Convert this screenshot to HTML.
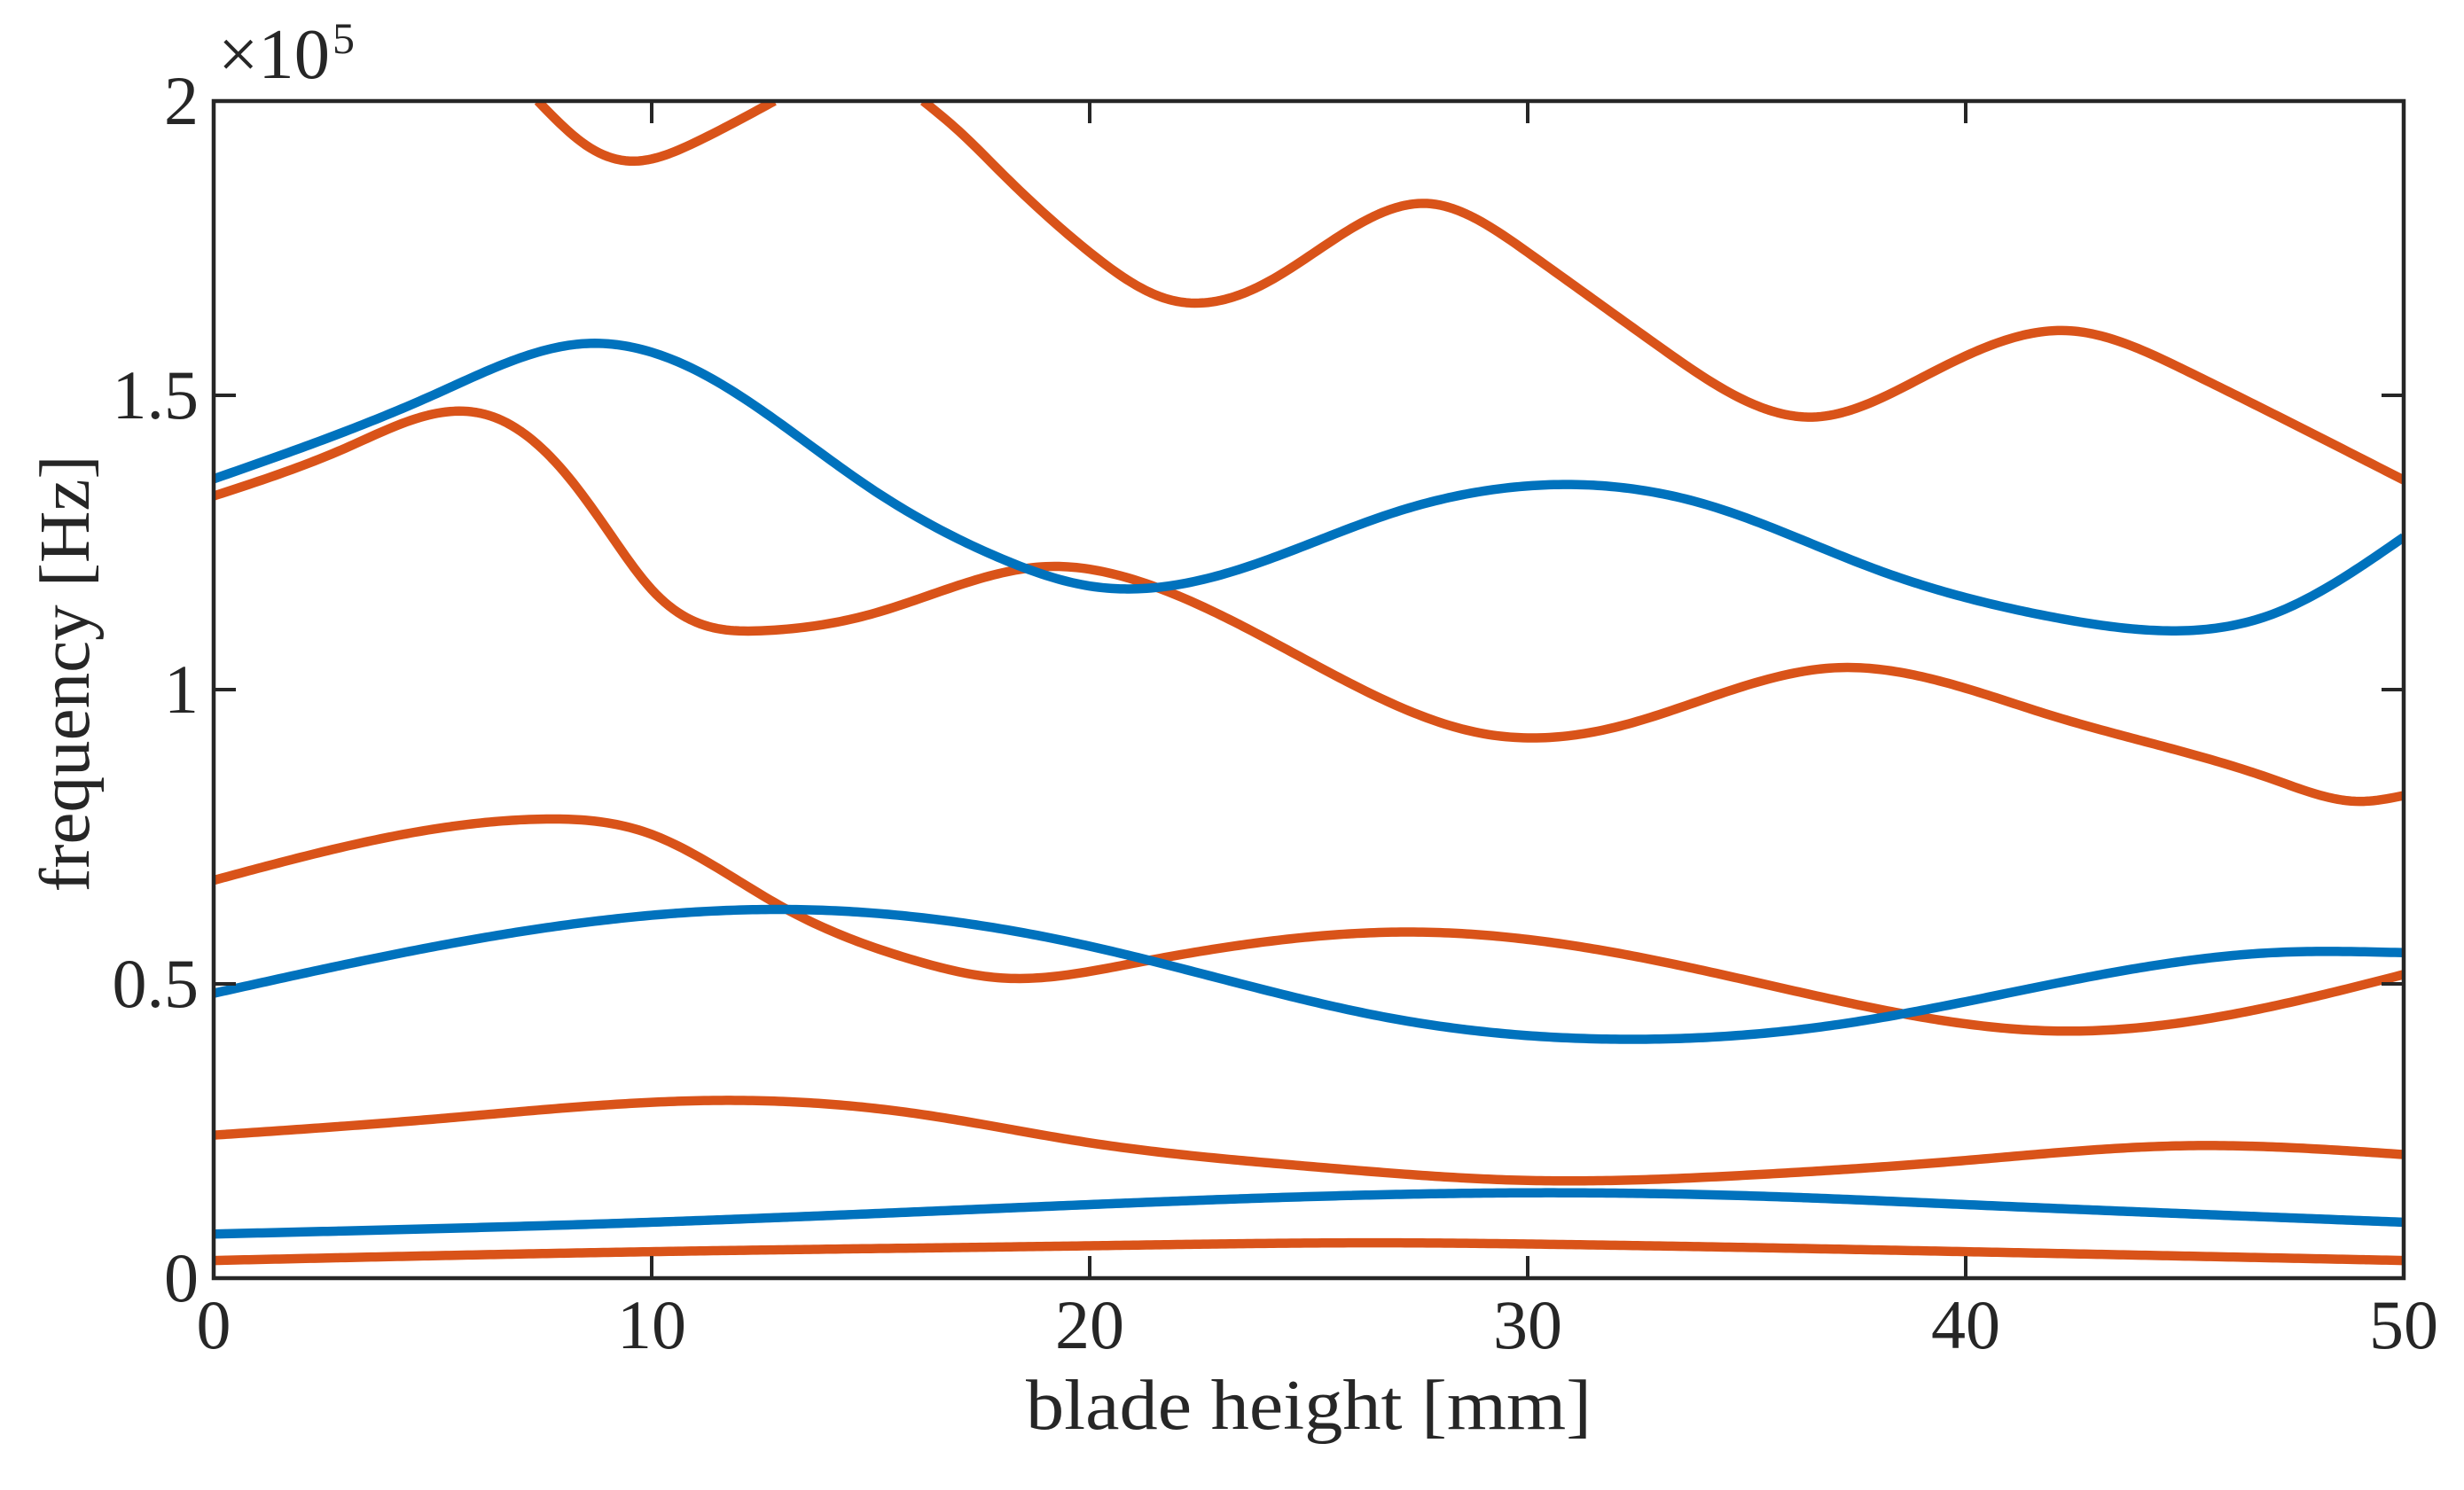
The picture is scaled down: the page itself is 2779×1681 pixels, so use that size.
<!DOCTYPE html>
<html><head><meta charset="utf-8">
<style>
html,body{margin:0;padding:0;background:#fff;}
svg{display:block;}
text{font-family:"Liberation Serif",serif;fill:#262626;}
</style></head>
<body>
<svg id="chart" width="2779" height="1681" viewBox="0 0 2779 1681" xmlns="http://www.w3.org/2000/svg">
<defs><clipPath id="plotclip"><rect x="241" y="114" width="2470" height="1328"/></clipPath></defs>
<rect x="0" y="0" width="2779" height="1681" fill="#fff"/>
<g id="series" clip-path="url(#plotclip)"></g>
<g id="axes"></g>
</svg>
<script>
const xTicks=[0,10,20,30,40,50];
const yTicks=[0,0.5,1,1.5,2];
const yTickLabels=["0","0.5","1","1.5","2"];
// series in units of 1e5 Hz, x in mm
const o1x=[0,10,20,27,30,40,50];
const o1y=[0.03,0.045,0.055,0.06,0.058,0.045,0.03];
const b1x=[0,10,20,30,35,40,50];
const b1y=[0.075,0.095,0.125,0.145,0.14,0.125,0.095];
const o2x=[0,5,12,16,20,25,30,35,40,45,50];
const o2y=[0.243,0.27,0.302,0.28,0.23,0.19,0.166,0.175,0.2,0.225,0.21];
const b2x=[0,13.5,20,27,32,37,42,47,50];
const b2y=[0.484,0.626,0.564,0.44,0.406,0.43,0.5,0.553,0.553];
const o3x=[0,7.5,10,13,16,18,21,27.5,32,37,42,46,50];
const o3y=[0.676,0.78,0.754,0.63,0.54,0.51,0.535,0.588,0.553,0.473,0.42,0.447,0.516];
const o4x=[0,3,5.5,6.5,8,9,10,11,12.5,15,19,21,25,29,32,37,42,47,49,50];
const o4y=[1.329,1.41,1.473,1.46,1.37,1.27,1.17,1.115,1.1,1.128,1.209,1.187,1.048,0.925,0.936,1.037,0.955,0.848,0.81,0.82];
const b3x=[0,5,8.5,11,15,18,20,23,27,30.5,34,38,42,44,47,50];
const b3y=[1.358,1.5,1.588,1.543,1.342,1.222,1.176,1.195,1.302,1.348,1.316,1.203,1.123,1.102,1.128,1.259];
const o5x=[7.4,8.5,9.5,11,12.8];
const o5y=[2.0,1.925,1.898,1.93,2.0];
const o6x=[16.2,17,18,20,21.8,24,27.7,30,33,36.5,39,42.3,45,50];
const o6y=[2.0,1.95,1.877,1.743,1.663,1.69,1.826,1.743,1.583,1.463,1.53,1.61,1.543,1.356];

const X0=241,X1=2711,Y0=1442,Y1=114;
const sx=v=>X0+(v-0)/(50-0)*(X1-X0);
const sy=v=>Y0-(v-0)/(2-0)*(Y0-Y1);
const NS="http://www.w3.org/2000/svg";
const blue="#0072BD", orange="#D95319";

// natural cubic spline through data points, sampled finely
function spline(xs,ys){
  const n=xs.length, h=[], a=[], l=[1], mu=[0], z=[0], c=new Array(n).fill(0), b=[], d=[];
  for(let i=0;i<n-1;i++)h.push(xs[i+1]-xs[i]);
  for(let i=1;i<n-1;i++)a[i]=3/h[i]*(ys[i+1]-ys[i])-3/h[i-1]*(ys[i]-ys[i-1]);
  for(let i=1;i<n-1;i++){l[i]=2*(xs[i+1]-xs[i-1])-h[i-1]*mu[i-1];mu[i]=h[i]/l[i];z[i]=(a[i]-h[i-1]*z[i-1])/l[i];}
  for(let j=n-2;j>=0;j--){
    if(j>0)c[j]=z[j]-mu[j]*c[j+1];
    b[j]=(ys[j+1]-ys[j])/h[j]-h[j]*(c[j+1]+2*c[j])/3;d[j]=(c[j+1]-c[j])/(3*h[j]);}
  const pts=[];
  for(let i=0;i<n-1;i++){
    const steps=Math.max(4,Math.ceil(h[i]/0.1));
    for(let k=0;k<steps;k++){const t=h[i]*k/steps;pts.push([xs[i]+t,ys[i]+b[i]*t+c[i]*t*t+d[i]*t*t*t]);}
  }
  pts.push([xs[n-1],ys[n-1]]);
  return pts;
}
function pathD(xs,ys){
  return spline(xs,ys).map((p,i)=>(i?"L":"M")+sx(p[0]).toFixed(2)+","+sy(p[1]).toFixed(2)).join("");
}
const sg=document.getElementById('series');
const list=[["orange-mode-1",o1x,o1y,orange],["orange-mode-2",o2x,o2y,orange],["orange-mode-3",o3x,o3y,orange],["orange-mode-4",o4x,o4y,orange],["orange-mode-5",o5x,o5y,orange],["orange-mode-6",o6x,o6y,orange],["blue-mode-1",b1x,b1y,blue],["blue-mode-2",b2x,b2y,blue],["blue-mode-3",b3x,b3y,blue]];
list.forEach(s=>{
  const el=document.createElementNS(NS,'path');
  el.setAttribute('d',pathD(s[1],s[2]));
  el.setAttribute('fill','none');
  el.setAttribute('stroke',s[3]);
  el.setAttribute('stroke-width','10.5');
  el.setAttribute('stroke-linejoin','round');
  
  
  sg.appendChild(el);
});
const ag=document.getElementById('axes');
function add(tag,attrs,txt){const e=document.createElementNS(NS,tag);for(const k in attrs)e.setAttribute(k,attrs[k]);if(txt!==undefined)e.textContent=txt;ag.appendChild(e);return e;}
const box=add('rect',{x:X0,y:Y1,width:X1-X0,height:Y0-Y1,fill:'none',stroke:'#262626','stroke-width':4.5});


xTicks.forEach(v=>{
  const x=sx(v);
  const t=add('path',{d:`M${x},${Y0}V${Y0-25}M${x},${Y1}V${Y1+25}`,stroke:'#262626','stroke-width':4});
  
  
  const l=add('text',{x:x,y:1521,'font-size':78,'text-anchor':'middle'},String(v));
  
  
});
yTicks.forEach((v,i)=>{
  const y=sy(v);
  const t=add('path',{d:`M${X0},${y}H${X0+25}M${X1},${y}H${X1-25}`,stroke:'#262626','stroke-width':4});
  
  
  const l=add('text',{x:224,y:y+26,'font-size':78,'text-anchor':'end'},yTickLabels[i]);
  
  
});
const ex=add('text',{x:246,y:88,'font-size':80,textLength:126,lengthAdjust:'spacingAndGlyphs'},'×10');


const ex5=add('text',{x:375,y:60,'font-size':50},'5');


const xl=add('text',{x:1476,y:1612,'font-size':80,'text-anchor':'middle',textLength:638,lengthAdjust:'spacingAndGlyphs'},'blade height [mm]');


const yl=add('text',{x:0,y:0,'font-size':80,'text-anchor':'middle',textLength:493,lengthAdjust:'spacingAndGlyphs',transform:'translate(100,760) rotate(-90)'},'frequency [Hz]');


</script>
</body></html>
